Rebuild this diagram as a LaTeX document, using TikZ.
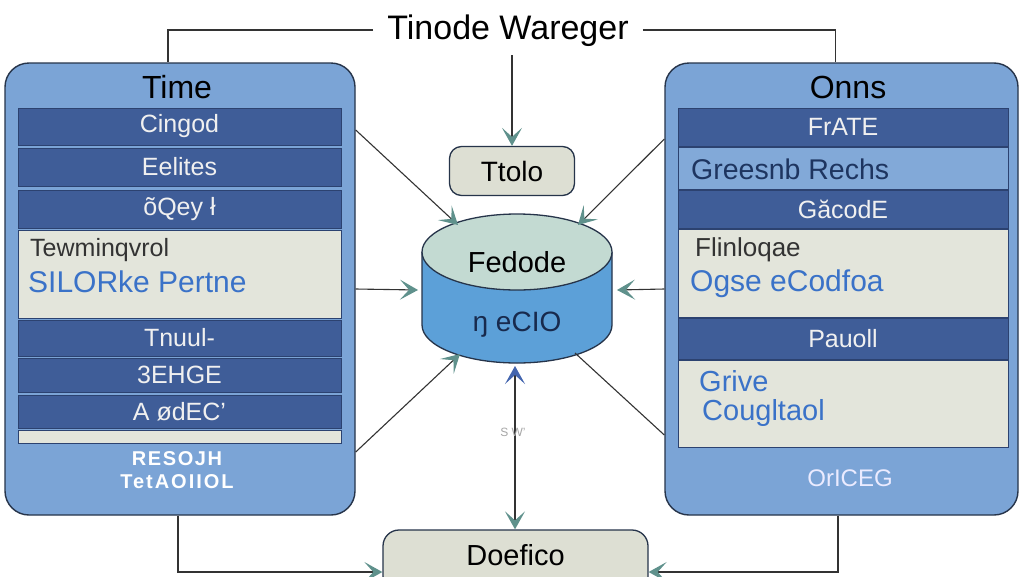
\documentclass[tikz,border=0pt]{standalone}
\usepackage{fontspec}
\setmainfont{Liberation Sans}
\usetikzlibrary{arrows.meta,shapes.geometric}
\definecolor{panelblue}{HTML}{7BA4D6}
\definecolor{rowdark}{HTML}{3F5D98}
\definecolor{rowlight}{HTML}{E3E5DB}
\definecolor{rowedge}{HTML}{2C4270}
\definecolor{edgecol}{HTML}{26344A}
\definecolor{linecol}{HTML}{333333}
\definecolor{headcol}{HTML}{5F918C}
\definecolor{boxfill}{HTML}{DDDFD3}
\definecolor{capfill}{HTML}{C3DAD2}
\definecolor{bodyfill}{HTML}{5CA0D8}
\definecolor{bluetext}{HTML}{3A72C8}
\definecolor{navytext}{HTML}{1E3560}
\newcommand\myfs[1]{\fontsize{#1}{#1}\selectfont}
\tikzset{
  panel/.style={draw=edgecol, line width=1.4pt, fill=panelblue, rounded corners=24pt, inner sep=0pt},
  drow/.style={fill=rowdark, draw=rowedge, line width=0.6pt, text=white!94!black, font=\myfs{25}, inner sep=0pt},
  brow/.style={fill=panelblue!95!white, draw=rowedge, line width=0.6pt, inner sep=0pt},
  lrow/.style={fill=rowlight, draw=rowedge, line width=0.8pt, inner sep=0pt},
  box/.style={draw=edgecol, line width=1.3pt, fill=boxfill, rounded corners=12pt, inner sep=0pt},
  conn/.style={draw=linecol, line width=1.1pt},
  arr/.style={conn, -{Stealth[length=18pt,width=20pt,inset=9pt,color=headcol]}},
  biarr/.style={conn, {Stealth[length=18pt,width=20pt,inset=9pt,color=headcol!70!blue]}-{Stealth[length=18pt,width=20pt,inset=9pt,color=headcol]}},
  ptitle/.style={font=\myfs{32}, text=black},
  grey/.style={text=black!80, font=\myfs{25}, anchor=west, inner sep=0pt},
  blue/.style={text=bluetext, font=\myfs{30}, anchor=west, inner sep=0pt},
}
\begin{document}
\begin{tikzpicture}[x=1pt,y=-1pt]
\useasboundingbox[fill=white] (0,0) rectangle (1024,576);

% panels
\node[panel, minimum width=350pt, minimum height=452pt] (lp) at (180,289) {};
\node[panel, minimum width=353pt, minimum height=452pt] (rp) at (841.5,289) {};

% left panel contents
\node[ptitle] (lt) at (177,87) {Time};
\node[drow, minimum width=323pt, minimum height=37pt] (l1) at (179.5,126.5) {Cingod};
\node[drow, minimum width=323pt, minimum height=38pt] (l2) at (179.5,167) {Eelites};
\node[drow, minimum width=323pt, minimum height=38pt] (l3) at (179.5,209) {õQey ł};
\node[lrow, minimum width=323pt, minimum height=88pt] (l4) at (179.5,274) {};
\node[grey] (l4a) at (30,250) {Tewminqvrol};
\node[blue] (l4b) at (28,282) {SILORke Pertne};
\node[drow, minimum width=323pt, minimum height=36pt] (l5) at (179.5,338) {Tnuul-};
\node[drow, minimum width=323pt, minimum height=34pt] (l6) at (179.5,375) {3EHGE};
\node[drow, minimum width=323pt, minimum height=33pt] (l7) at (179.5,411.5) {A ødEC'};
\node[lrow, minimum width=323pt, minimum height=13pt] (l8) at (179.5,436.5) {};
\node[text=white, font=\myfs{20}\bfseries\addfontfeatures{LetterSpace=8}] (lb1) at (177,459) {RESOJH};
\node[text=white, font=\myfs{20}\bfseries\addfontfeatures{LetterSpace=10}] (lb2) at (177,482) {TetAOIIOL};

% right panel contents
\node[ptitle] (rt) at (848,87) {Onns};
\node[drow, minimum width=330pt, minimum height=38pt] (r1) at (843,127) {FrATE};
\node[brow, minimum width=330pt, minimum height=42pt] (r2) at (843,168) {};
\node[text=navytext, font=\myfs{28.5}, anchor=west, inner sep=0pt] (r2t) at (691,169) {Greesnb Rechs};
\node[drow, minimum width=330pt, minimum height=38pt] (r3) at (843,209) {GăcodE};
\node[lrow, minimum width=330pt, minimum height=88pt] (r4) at (843,273) {};
\node[grey, font=\myfs{26}] (r4a) at (695,250) {Flinloqae};
\node[blue] (r4b) at (690,284) {Ogse eCodfoa};
\node[drow, minimum width=330pt, minimum height=41pt] (r5) at (843,338.5) {Pauoll};
\node[lrow, minimum width=330pt, minimum height=87pt] (r6) at (843,403.5) {};
\node[blue, font=\myfs{29}] (r6a) at (699,381) {Grive};
\node[blue, font=\myfs{29}] (r6b) at (702,413) {Cougltaol};
\node[text=white!92!blue, font=\myfs{24}] (rb) at (850,478) {OrICEG};

% title
\node[font=\myfs{34}, text height=25pt, text depth=7pt, inner xsep=14pt, inner ysep=9pt] (tt) at (508,30) {Tinode Wareger};

% tolo box
\node[box, minimum width=125pt, minimum height=49pt, font=\myfs{28}] (to) at (512,171) {Ttolo};

% doefico box
\node[box, minimum width=265pt, minimum height=62pt, rounded corners=16pt] (df) at (515.5,561) {};
\node[font=\myfs{29}, inner sep=1pt] (dft) at (515.5,555) {Doefico};

% cylinder
\path[fill=bodyfill] (422,252) -- (422,325) arc[start angle=180,end angle=0,x radius=95,y radius=38] -- (612,252) -- cycle;
\draw[edgecol, line width=1.3pt] (422,252) -- (422,325) arc[start angle=180,end angle=0,x radius=95,y radius=38] -- (612,252);
\draw[edgecol, line width=1.3pt, fill=capfill] (517,252) ellipse[x radius=95, y radius=38];
\node[font=\myfs{29}] (cyt) at (517,262) {Fedode};
\node[font=\myfs{28}, text=navytext!80!black] (cyb) at (517,325) {ŋ eCIO};
\coordinate (cTL) at (458,225);
\coordinate (cL) at (418,290);
\coordinate (cBL) at (460,354);
\coordinate (cTR) at (578,225);
\coordinate (cR) at (617,290);
\coordinate (cBR) at (575,353);
\coordinate (cB) at (515,366);

% connectors
\draw[conn] (tt.west) -| ([xshift=-12pt]lp.north);
\draw[conn] (tt.east) -| ([xshift=-6pt]rp.north);
\draw[arr] (tt.south -| to.north) -- (to.north);
\draw[arr] ([yshift=159pt]lp.east) -- (cTL);
\draw[arr] (lp.east) -- (cL);
\draw[arr] ([yshift=-163pt]lp.east) -- (cBL);
\draw[arr] ([yshift=150pt]rp.west) -- (cTR);
\draw[arr] (rp.west) -- (cR);
\draw[conn] ([yshift=-146pt]rp.west) -- (cBR);
\draw[biarr] (cB) -- (cB |- df.north);
\node[text=black!35, font=\myfs{12}] (sw) at (513,432) {S W'};
\draw[arr] ([xshift=-2pt]lp.south) |- ([yshift=-11pt]df.west);
\draw[arr] ([xshift=-3.5pt]rp.south) |- ([yshift=-11pt]df.east);
\end{tikzpicture}
\end{document}
